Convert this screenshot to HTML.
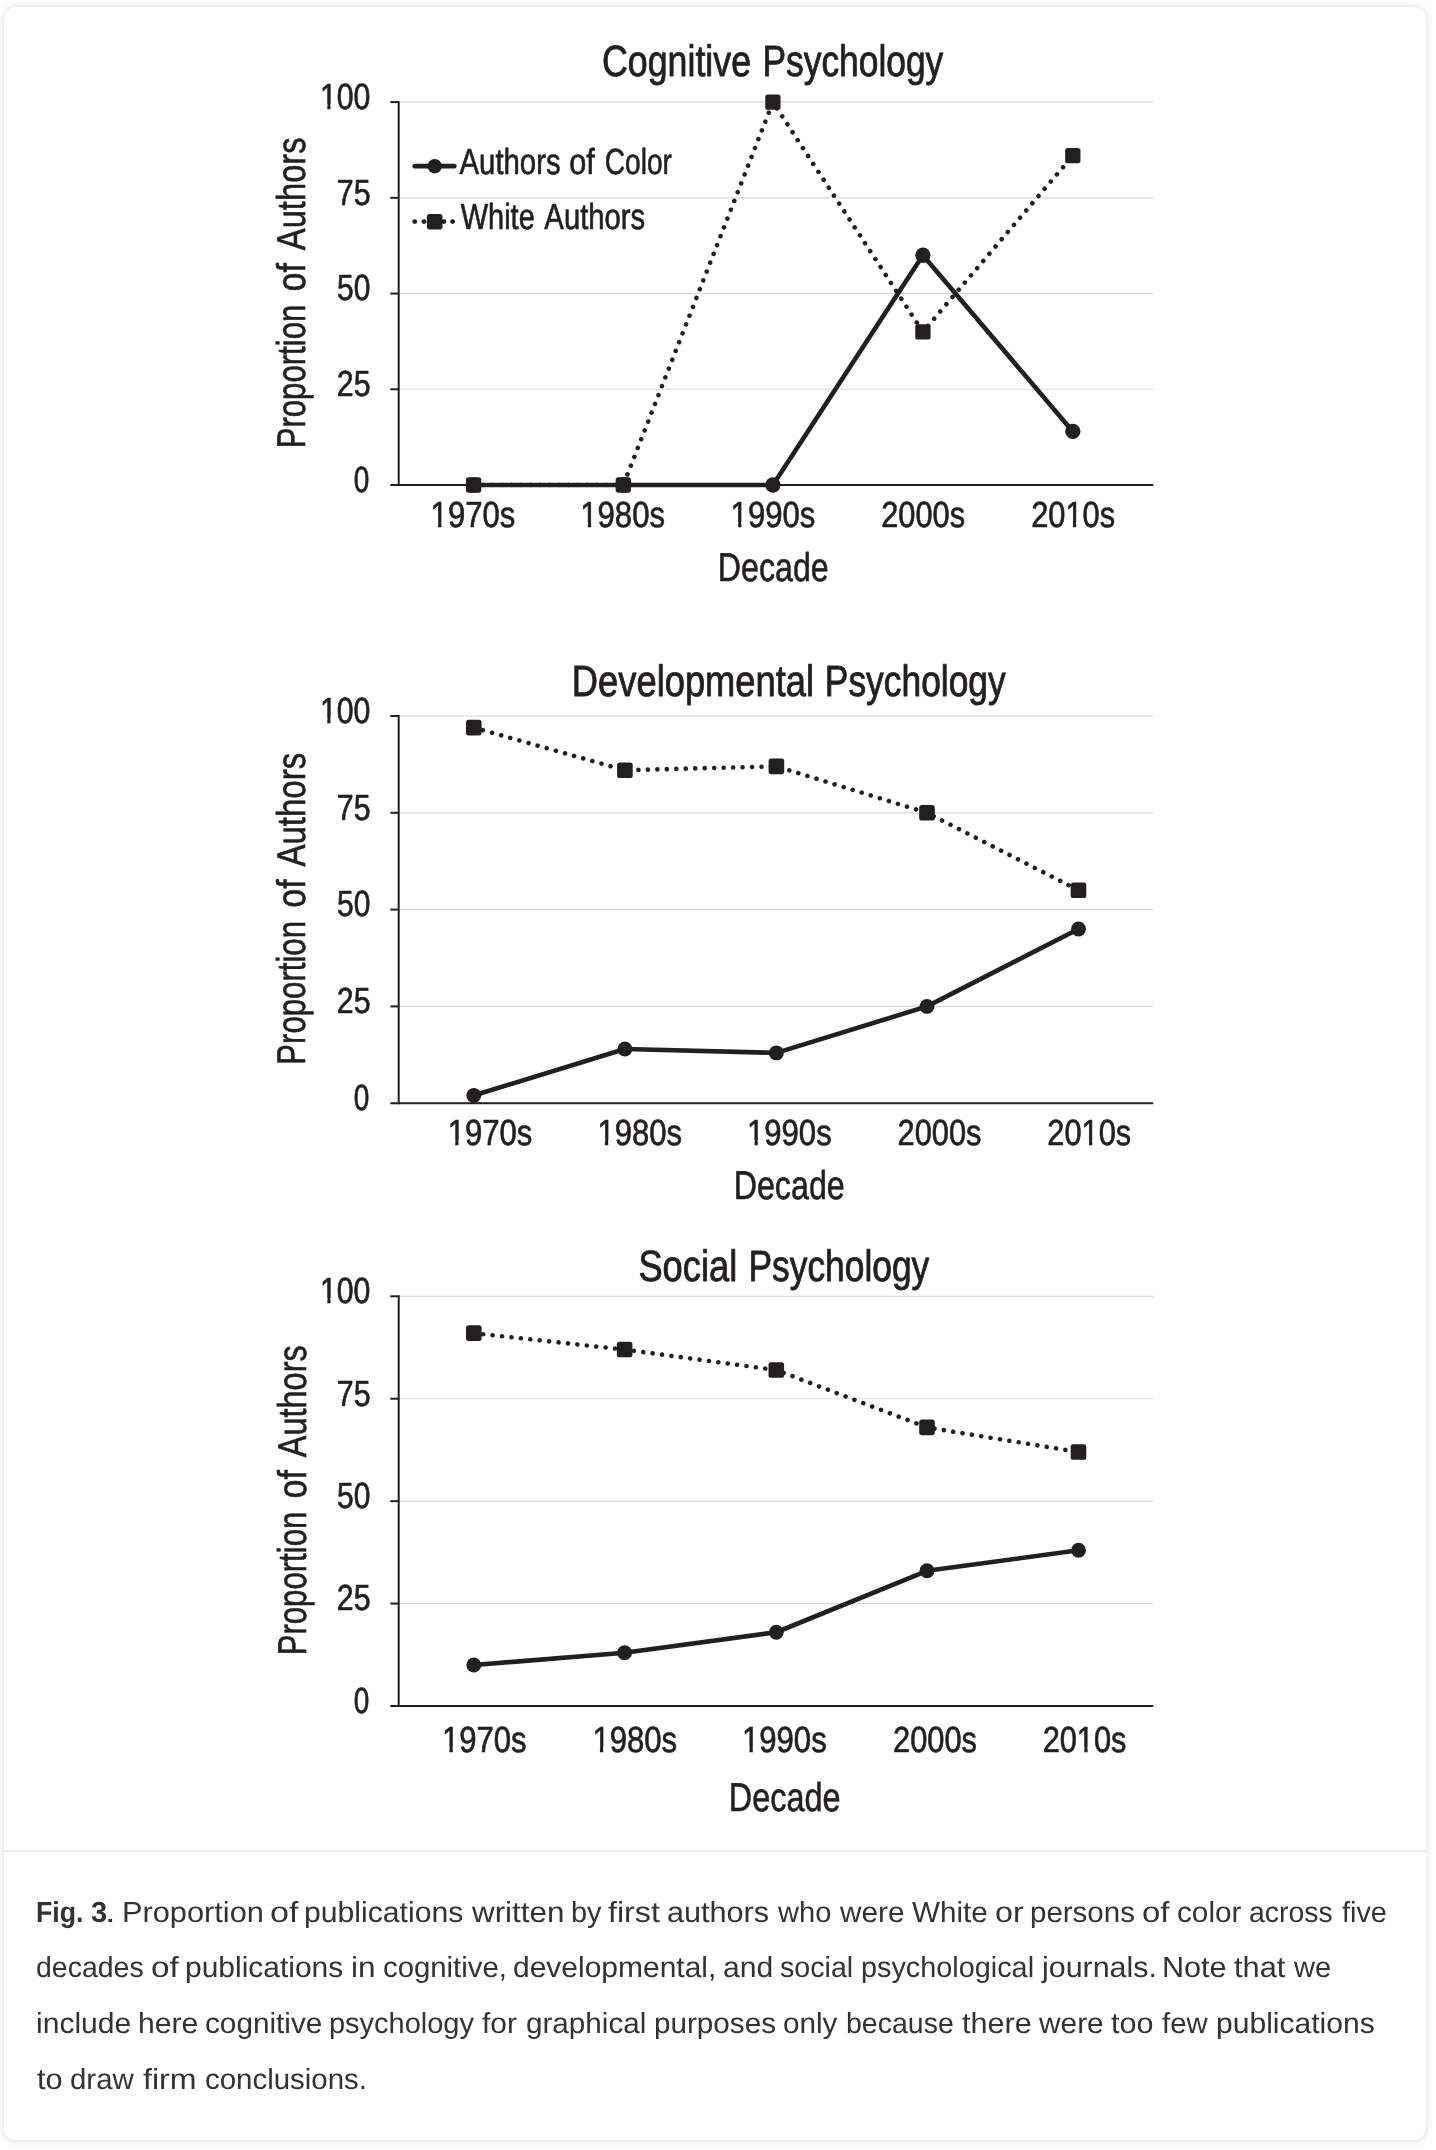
<!DOCTYPE html>
<html><head><meta charset="utf-8"><title>Fig. 3</title>
<style>
html,body{margin:0;padding:0;background:#fff;}
body{width:1436px;height:2150px;position:relative;overflow:hidden;font-family:"Liberation Sans",sans-serif;}
.card{position:absolute;left:4px;top:7px;width:1422px;height:2132.5px;background:#fff;border-radius:12px;box-shadow:0 0.5px 7px rgba(0,0,0,0.15);}
.divider{position:absolute;left:4px;top:1850px;width:1422px;height:2px;background:#ededed;}
svg{position:absolute;left:0;top:0;will-change:transform;}
svg text{font-family:"Liberation Sans",sans-serif;fill:#231f20;stroke:#231f20;stroke-linejoin:round;text-rendering:geometricPrecision;}
.cl{position:absolute;left:0;width:1436px;white-space:nowrap;font-size:29px;line-height:50px;height:50px;color:#333;will-change:transform;text-rendering:geometricPrecision;}
.cw{position:absolute;top:0;display:block;transform-origin:0 0;font-weight:normal;}
b.cw{font-weight:bold;}
</style></head><body>
<figure style="margin:0">
<div class="card"></div>
<div class="divider"></div>
<svg width="1436" height="1850" viewBox="0 0 1436 1850">
<line x1="398.7" y1="389.27" x2="1153.3" y2="389.27" stroke="#dadada" stroke-width="1.15"/>
<line x1="398.7" y1="293.55" x2="1153.3" y2="293.55" stroke="#dadada" stroke-width="1.15"/>
<line x1="398.7" y1="197.83" x2="1153.3" y2="197.83" stroke="#dadada" stroke-width="1.15"/>
<line x1="398.7" y1="102.10" x2="1153.3" y2="102.10" stroke="#dadada" stroke-width="1.15"/>
<line x1="398.7" y1="101.15" x2="398.7" y2="485.95" stroke="#231f20" stroke-width="2"/>
<line x1="390.3" y1="485.00" x2="1153.3" y2="485.00" stroke="#231f20" stroke-width="2"/>
<line x1="390.3" y1="389.27" x2="398.7" y2="389.27" stroke="#231f20" stroke-width="2"/>
<line x1="390.3" y1="293.55" x2="398.7" y2="293.55" stroke="#231f20" stroke-width="2"/>
<line x1="390.3" y1="197.83" x2="398.7" y2="197.83" stroke="#231f20" stroke-width="2"/>
<line x1="390.3" y1="102.10" x2="398.7" y2="102.10" stroke="#231f20" stroke-width="2"/>
<g transform="translate(319.97,108.90) scale(0.8331,1)"><text font-size="36.25" stroke-width="0.65">100</text><rect x="1.01" y="-5.15" width="7.76" height="6.88" fill="#fff"/><rect x="12.65" y="-5.15" width="7.47" height="6.88" fill="#fff"/></g>
<g transform="translate(336.75,204.63) scale(0.8372,1)"><text font-size="36.25" stroke-width="0.65">75</text></g>
<g transform="translate(337.07,300.35) scale(0.8253,1)"><text font-size="36.25" stroke-width="0.65">50</text></g>
<g transform="translate(336.75,396.07) scale(0.8372,1)"><text font-size="36.25" stroke-width="0.65">25</text></g>
<g transform="translate(353.83,491.80) scale(0.7701,1)"><text font-size="36.25" stroke-width="0.65">0</text></g>
<g transform="translate(602.06,75.90) scale(0.8158,1)"><text font-size="43.8" stroke-width="0.85">Cognitive</text></g>
<g transform="translate(762.41,75.90) scale(0.8077,1)"><text font-size="43.8" stroke-width="0.85">Psychology</text></g>
<g transform="translate(430.60,527.30) scale(0.8572,1)"><text font-size="36.25" stroke-width="0.65">1970s</text><rect x="1.01" y="-5.15" width="7.76" height="6.88" fill="#fff"/><rect x="12.65" y="-5.15" width="7.47" height="6.88" fill="#fff"/></g>
<g transform="translate(580.30,527.30) scale(0.8572,1)"><text font-size="36.25" stroke-width="0.65">1980s</text><rect x="1.01" y="-5.15" width="7.76" height="6.88" fill="#fff"/><rect x="12.65" y="-5.15" width="7.47" height="6.88" fill="#fff"/></g>
<g transform="translate(730.60,527.30) scale(0.8572,1)"><text font-size="36.25" stroke-width="0.65">1990s</text><rect x="1.01" y="-5.15" width="7.76" height="6.88" fill="#fff"/><rect x="12.65" y="-5.15" width="7.47" height="6.88" fill="#fff"/></g>
<g transform="translate(881.24,527.30) scale(0.8490,1)"><text font-size="36.25" stroke-width="0.65">2000s</text></g>
<g transform="translate(1031.24,527.30) scale(0.8490,1)"><text font-size="36.25" stroke-width="0.65">2010s</text><rect x="41.33" y="-5.15" width="7.76" height="6.88" fill="#fff"/><rect x="52.97" y="-5.15" width="7.47" height="6.88" fill="#fff"/></g>
<g transform="translate(717.87,581.40) scale(0.7996,1)"><text font-size="40.2" stroke-width="0.6">Decade</text></g>
<g transform="translate(305.40,446.10) rotate(-90) translate(-2.26,0) scale(0.7748,1)"><text font-size="40.2" stroke-width="0.6">Proportion</text></g>
<g transform="translate(305.40,446.10) rotate(-90) translate(154.70,0) scale(0.8446,1)"><text font-size="40.2" stroke-width="0.6">of</text></g>
<g transform="translate(305.40,446.10) rotate(-90) translate(195.94,0) scale(0.8142,1)"><text font-size="40.2" stroke-width="0.6">Authors</text></g>
<polyline points="473.60,485.00 623.30,485.00 772.90,102.10 922.90,331.84 1072.80,155.71" fill="none" stroke="#231f20" stroke-width="4.6" stroke-linecap="round" stroke-dasharray="0.01 9.462"/>
<polyline points="473.60,485.00 623.30,485.00 772.90,485.00 922.90,255.26 1072.80,431.39" fill="none" stroke="#231f20" stroke-width="4.6" stroke-linejoin="round" stroke-linecap="round"/>
<rect x="465.95" y="477.35" width="15.3" height="15.3" rx="2.6" fill="#231f20"/>
<rect x="615.65" y="477.35" width="15.3" height="15.3" rx="2.6" fill="#231f20"/>
<rect x="765.25" y="94.45" width="15.3" height="15.3" rx="2.6" fill="#231f20"/>
<rect x="915.25" y="324.19" width="15.3" height="15.3" rx="2.6" fill="#231f20"/>
<rect x="1065.15" y="148.06" width="15.3" height="15.3" rx="2.6" fill="#231f20"/>
<circle cx="473.60" cy="485.00" r="7.65" fill="#231f20"/>
<circle cx="623.30" cy="485.00" r="7.65" fill="#231f20"/>
<circle cx="772.90" cy="485.00" r="7.65" fill="#231f20"/>
<circle cx="922.90" cy="255.26" r="7.65" fill="#231f20"/>
<circle cx="1072.80" cy="431.39" r="7.65" fill="#231f20"/>
<line x1="414.8" y1="166.2" x2="454.2" y2="166.2" stroke="#231f20" stroke-width="4.8" stroke-linecap="round"/>
<circle cx="434.7" cy="166.2" r="7.2" fill="#231f20"/>
<g transform="translate(459.56,174.00) scale(0.8088,1)"><text font-size="36.25" stroke-width="0.65">Authors</text></g>
<g transform="translate(569.15,174.00) scale(0.8450,1)"><text font-size="36.25" stroke-width="0.65">of</text></g>
<g transform="translate(604.65,174.00) scale(0.7764,1)"><text font-size="36.25" stroke-width="0.65">Color</text></g>
<circle cx="414.7" cy="221.6" r="2.45" fill="#231f20"/>
<circle cx="424.0" cy="221.6" r="2.45" fill="#231f20"/>
<circle cx="443.9" cy="221.6" r="2.45" fill="#231f20"/>
<circle cx="452.6" cy="221.6" r="2.45" fill="#231f20"/>
<rect x="426.9" y="213.9" width="15.6" height="15.6" rx="2.7" fill="#231f20"/>
<g transform="translate(460.71,229.40) scale(0.7993,1)"><text font-size="36.25" stroke-width="0.65">White</text></g>
<g transform="translate(544.36,229.40) scale(0.8072,1)"><text font-size="36.25" stroke-width="0.65">Authors</text></g>
<line x1="398.7" y1="1006.40" x2="1153.3" y2="1006.40" stroke="#dadada" stroke-width="1.15"/>
<line x1="398.7" y1="909.60" x2="1153.3" y2="909.60" stroke="#dadada" stroke-width="1.15"/>
<line x1="398.7" y1="812.80" x2="1153.3" y2="812.80" stroke="#dadada" stroke-width="1.15"/>
<line x1="398.7" y1="716.00" x2="1153.3" y2="716.00" stroke="#dadada" stroke-width="1.15"/>
<line x1="398.7" y1="715.05" x2="398.7" y2="1104.15" stroke="#231f20" stroke-width="2"/>
<line x1="390.3" y1="1103.20" x2="1153.3" y2="1103.20" stroke="#231f20" stroke-width="2"/>
<line x1="390.3" y1="1006.40" x2="398.7" y2="1006.40" stroke="#231f20" stroke-width="2"/>
<line x1="390.3" y1="909.60" x2="398.7" y2="909.60" stroke="#231f20" stroke-width="2"/>
<line x1="390.3" y1="812.80" x2="398.7" y2="812.80" stroke="#231f20" stroke-width="2"/>
<line x1="390.3" y1="716.00" x2="398.7" y2="716.00" stroke="#231f20" stroke-width="2"/>
<g transform="translate(319.97,722.80) scale(0.8331,1)"><text font-size="36.25" stroke-width="0.65">100</text><rect x="1.01" y="-5.15" width="7.76" height="6.88" fill="#fff"/><rect x="12.65" y="-5.15" width="7.47" height="6.88" fill="#fff"/></g>
<g transform="translate(336.75,819.60) scale(0.8372,1)"><text font-size="36.25" stroke-width="0.65">75</text></g>
<g transform="translate(337.07,916.40) scale(0.8253,1)"><text font-size="36.25" stroke-width="0.65">50</text></g>
<g transform="translate(336.75,1013.20) scale(0.8372,1)"><text font-size="36.25" stroke-width="0.65">25</text></g>
<g transform="translate(353.83,1110.00) scale(0.7701,1)"><text font-size="36.25" stroke-width="0.65">0</text></g>
<g transform="translate(571.85,695.60) scale(0.8292,1)"><text font-size="43.8" stroke-width="0.85">Developmental</text></g>
<g transform="translate(824.81,695.60) scale(0.8077,1)"><text font-size="43.8" stroke-width="0.85">Psychology</text></g>
<g transform="translate(447.70,1145.00) scale(0.8572,1)"><text font-size="36.25" stroke-width="0.65">1970s</text><rect x="1.01" y="-5.15" width="7.76" height="6.88" fill="#fff"/><rect x="12.65" y="-5.15" width="7.47" height="6.88" fill="#fff"/></g>
<g transform="translate(597.40,1145.00) scale(0.8572,1)"><text font-size="36.25" stroke-width="0.65">1980s</text><rect x="1.01" y="-5.15" width="7.76" height="6.88" fill="#fff"/><rect x="12.65" y="-5.15" width="7.47" height="6.88" fill="#fff"/></g>
<g transform="translate(747.00,1145.00) scale(0.8572,1)"><text font-size="36.25" stroke-width="0.65">1990s</text><rect x="1.01" y="-5.15" width="7.76" height="6.88" fill="#fff"/><rect x="12.65" y="-5.15" width="7.47" height="6.88" fill="#fff"/></g>
<g transform="translate(897.54,1145.00) scale(0.8490,1)"><text font-size="36.25" stroke-width="0.65">2000s</text></g>
<g transform="translate(1047.34,1145.00) scale(0.8490,1)"><text font-size="36.25" stroke-width="0.65">2010s</text><rect x="41.33" y="-5.15" width="7.76" height="6.88" fill="#fff"/><rect x="52.97" y="-5.15" width="7.47" height="6.88" fill="#fff"/></g>
<g transform="translate(733.66,1198.80) scale(0.8019,1)"><text font-size="40.2" stroke-width="0.6">Decade</text></g>
<g transform="translate(305.30,1062.40) rotate(-90) translate(-2.26,0) scale(0.7748,1)"><text font-size="40.2" stroke-width="0.6">Proportion</text></g>
<g transform="translate(305.30,1062.40) rotate(-90) translate(154.70,0) scale(0.8446,1)"><text font-size="40.2" stroke-width="0.6">of</text></g>
<g transform="translate(305.30,1062.40) rotate(-90) translate(195.95,0) scale(0.8200,1)"><text font-size="40.2" stroke-width="0.6">Authors</text></g>
<polyline points="473.80,727.62 624.90,770.21 776.40,766.34 927.00,812.80 1078.50,890.24" fill="none" stroke="#231f20" stroke-width="4.6" stroke-linecap="round" stroke-dasharray="0.01 9.462"/>
<polyline points="473.80,1095.46 624.90,1048.99 776.40,1052.86 927.00,1006.40 1078.50,928.96" fill="none" stroke="#231f20" stroke-width="4.6" stroke-linejoin="round" stroke-linecap="round"/>
<rect x="466.00" y="719.82" width="15.6" height="15.6" rx="2.6" fill="#231f20"/>
<rect x="617.10" y="762.41" width="15.6" height="15.6" rx="2.6" fill="#231f20"/>
<rect x="768.60" y="758.54" width="15.6" height="15.6" rx="2.6" fill="#231f20"/>
<rect x="919.20" y="805.00" width="15.6" height="15.6" rx="2.6" fill="#231f20"/>
<rect x="1070.70" y="882.44" width="15.6" height="15.6" rx="2.6" fill="#231f20"/>
<circle cx="473.80" cy="1095.46" r="7.45" fill="#231f20"/>
<circle cx="624.90" cy="1048.99" r="7.45" fill="#231f20"/>
<circle cx="776.40" cy="1052.86" r="7.45" fill="#231f20"/>
<circle cx="927.00" cy="1006.40" r="7.45" fill="#231f20"/>
<circle cx="1078.50" cy="928.96" r="7.45" fill="#231f20"/>
<line x1="398.7" y1="1603.58" x2="1153.3" y2="1603.58" stroke="#dadada" stroke-width="1.15"/>
<line x1="398.7" y1="1501.15" x2="1153.3" y2="1501.15" stroke="#dadada" stroke-width="1.15"/>
<line x1="398.7" y1="1398.72" x2="1153.3" y2="1398.72" stroke="#dadada" stroke-width="1.15"/>
<line x1="398.7" y1="1296.30" x2="1153.3" y2="1296.30" stroke="#dadada" stroke-width="1.15"/>
<line x1="398.7" y1="1295.35" x2="398.7" y2="1706.95" stroke="#231f20" stroke-width="2"/>
<line x1="390.3" y1="1706.00" x2="1153.3" y2="1706.00" stroke="#231f20" stroke-width="2"/>
<line x1="390.3" y1="1603.58" x2="398.7" y2="1603.58" stroke="#231f20" stroke-width="2"/>
<line x1="390.3" y1="1501.15" x2="398.7" y2="1501.15" stroke="#231f20" stroke-width="2"/>
<line x1="390.3" y1="1398.72" x2="398.7" y2="1398.72" stroke="#231f20" stroke-width="2"/>
<line x1="390.3" y1="1296.30" x2="398.7" y2="1296.30" stroke="#231f20" stroke-width="2"/>
<g transform="translate(319.97,1303.10) scale(0.8331,1)"><text font-size="36.25" stroke-width="0.65">100</text><rect x="1.01" y="-5.15" width="7.76" height="6.88" fill="#fff"/><rect x="12.65" y="-5.15" width="7.47" height="6.88" fill="#fff"/></g>
<g transform="translate(336.75,1405.52) scale(0.8372,1)"><text font-size="36.25" stroke-width="0.65">75</text></g>
<g transform="translate(337.07,1507.95) scale(0.8253,1)"><text font-size="36.25" stroke-width="0.65">50</text></g>
<g transform="translate(336.75,1610.38) scale(0.8372,1)"><text font-size="36.25" stroke-width="0.65">25</text></g>
<g transform="translate(353.83,1712.80) scale(0.7701,1)"><text font-size="36.25" stroke-width="0.65">0</text></g>
<g transform="translate(638.42,1281.10) scale(0.8284,1)"><text font-size="43.8" stroke-width="0.85">Social</text></g>
<g transform="translate(748.41,1281.10) scale(0.8077,1)"><text font-size="43.8" stroke-width="0.85">Psychology</text></g>
<g transform="translate(441.90,1752.30) scale(0.8572,1)"><text font-size="36.25" stroke-width="0.65">1970s</text><rect x="1.01" y="-5.15" width="7.76" height="6.88" fill="#fff"/><rect x="12.65" y="-5.15" width="7.47" height="6.88" fill="#fff"/></g>
<g transform="translate(592.40,1752.30) scale(0.8572,1)"><text font-size="36.25" stroke-width="0.65">1980s</text><rect x="1.01" y="-5.15" width="7.76" height="6.88" fill="#fff"/><rect x="12.65" y="-5.15" width="7.47" height="6.88" fill="#fff"/></g>
<g transform="translate(742.00,1752.30) scale(0.8572,1)"><text font-size="36.25" stroke-width="0.65">1990s</text><rect x="1.01" y="-5.15" width="7.76" height="6.88" fill="#fff"/><rect x="12.65" y="-5.15" width="7.47" height="6.88" fill="#fff"/></g>
<g transform="translate(893.04,1752.30) scale(0.8490,1)"><text font-size="36.25" stroke-width="0.65">2000s</text></g>
<g transform="translate(1042.64,1752.30) scale(0.8490,1)"><text font-size="36.25" stroke-width="0.65">2010s</text><rect x="41.33" y="-5.15" width="7.76" height="6.88" fill="#fff"/><rect x="52.97" y="-5.15" width="7.47" height="6.88" fill="#fff"/></g>
<g transform="translate(728.85,1810.80) scale(0.8063,1)"><text font-size="40.2" stroke-width="0.6">Decade</text></g>
<g transform="translate(305.60,1653.10) rotate(-90) translate(-2.26,0) scale(0.7748,1)"><text font-size="40.2" stroke-width="0.6">Proportion</text></g>
<g transform="translate(305.60,1653.10) rotate(-90) translate(154.70,0) scale(0.8446,1)"><text font-size="40.2" stroke-width="0.6">of</text></g>
<g transform="translate(305.60,1653.10) rotate(-90) translate(195.94,0) scale(0.8077,1)"><text font-size="40.2" stroke-width="0.6">Authors</text></g>
<polyline points="473.80,1333.17 624.60,1349.56 776.30,1370.05 927.00,1427.40 1078.50,1451.99" fill="none" stroke="#231f20" stroke-width="4.6" stroke-linecap="round" stroke-dasharray="0.01 9.462"/>
<polyline points="473.80,1665.03 624.60,1652.74 776.30,1632.25 927.00,1570.80 1078.50,1550.31" fill="none" stroke="#231f20" stroke-width="4.6" stroke-linejoin="round" stroke-linecap="round"/>
<rect x="466.00" y="1325.37" width="15.6" height="15.6" rx="2.6" fill="#231f20"/>
<rect x="616.80" y="1341.76" width="15.6" height="15.6" rx="2.6" fill="#231f20"/>
<rect x="768.50" y="1362.25" width="15.6" height="15.6" rx="2.6" fill="#231f20"/>
<rect x="919.20" y="1419.60" width="15.6" height="15.6" rx="2.6" fill="#231f20"/>
<rect x="1070.70" y="1444.19" width="15.6" height="15.6" rx="2.6" fill="#231f20"/>
<circle cx="473.80" cy="1665.03" r="7.45" fill="#231f20"/>
<circle cx="624.60" cy="1652.74" r="7.45" fill="#231f20"/>
<circle cx="776.30" cy="1632.25" r="7.45" fill="#231f20"/>
<circle cx="927.00" cy="1570.80" r="7.45" fill="#231f20"/>
<circle cx="1078.50" cy="1550.31" r="7.45" fill="#231f20"/>
</svg>
<figcaption>
<div class="cl" style="top:1887.7px"><b class="cw" style="left:36.2px;transform:scaleX(0.9202)">Fig.</b> <b class="cw" style="left:90.5px;transform:scaleX(1.0031)">3</b> <span class="cw" style="left:104.9px;transform:scaleX(1.3067)">.</span> <span class="cw" style="left:121.5px;transform:scaleX(1.0607)">Proportion</span> <span class="cw" style="left:269.9px;transform:scaleX(1.1755)">of</span> <span class="cw" style="left:304.2px;transform:scaleX(1.0405)">publications</span> <span class="cw" style="left:471.5px;transform:scaleX(1.0824)">written</span> <span class="cw" style="left:570.5px;transform:scaleX(0.9962)">by</span> <span class="cw" style="left:608.4px;transform:scaleX(1.1104)">first</span> <span class="cw" style="left:667.3px;transform:scaleX(1.0556)">authors</span> <span class="cw" style="left:778.2px;transform:scaleX(1.0028)">who</span> <span class="cw" style="left:840.4px;transform:scaleX(1.0264)">were</span> <span class="cw" style="left:911.8px;transform:scaleX(1.0214)">White</span> <span class="cw" style="left:994.6px;transform:scaleX(1.1093)">or</span> <span class="cw" style="left:1030.1px;transform:scaleX(1.0165)">persons</span> <span class="cw" style="left:1142.4px;transform:scaleX(1.1364)">of</span> <span class="cw" style="left:1176.6px;transform:scaleX(1.0247)">color</span> <span class="cw" style="left:1249.0px;transform:scaleX(0.9792)">across</span> <span class="cw" style="left:1342.0px;transform:scaleX(0.9941)">five</span></div>
<div class="cl" style="top:1943.3px"><span class="cw" style="left:36.2px;transform:scaleX(0.9819)">decades</span> <span class="cw" style="left:150.9px;transform:scaleX(1.1494)">of</span> <span class="cw" style="left:184.8px;transform:scaleX(1.0332)">publications</span> <span class="cw" style="left:351.0px;transform:scaleX(1.0853)">in</span> <span class="cw" style="left:382.5px;transform:scaleX(1.0113)">cognitive,</span> <span class="cw" style="left:513.1px;transform:scaleX(1.0337)">developmental,</span> <span class="cw" style="left:722.7px;transform:scaleX(1.0389)">and</span> <span class="cw" style="left:780.0px;transform:scaleX(0.9868)">social</span> <span class="cw" style="left:860.9px;transform:scaleX(0.9939)">psychological</span> <span class="cw" style="left:1041.6px;transform:scaleX(1.0484)">journals.</span> <span class="cw" style="left:1162.0px;transform:scaleX(1.0545)">Note</span> <span class="cw" style="left:1233.7px;transform:scaleX(1.0607)">that</span> <span class="cw" style="left:1293.9px;transform:scaleX(1.0008)">we</span></div>
<div class="cl" style="top:1999.0px"><span class="cw" style="left:35.9px;transform:scaleX(1.0367)">include</span> <span class="cw" style="left:137.6px;transform:scaleX(1.0391)">here</span> <span class="cw" style="left:204.9px;transform:scaleX(1.0255)">cognitive</span> <span class="cw" style="left:328.5px;transform:scaleX(0.9989)">psychology</span> <span class="cw" style="left:482.1px;transform:scaleX(1.0299)">for</span> <span class="cw" style="left:526.2px;transform:scaleX(1.0223)">graphical</span> <span class="cw" style="left:653.6px;transform:scaleX(1.0229)">purposes</span> <span class="cw" style="left:783.2px;transform:scaleX(1.0239)">only</span> <span class="cw" style="left:845.8px;transform:scaleX(0.9828)">because</span> <span class="cw" style="left:961.6px;transform:scaleX(1.0547)">there</span> <span class="cw" style="left:1038.7px;transform:scaleX(1.0296)">were</span> <span class="cw" style="left:1110.9px;transform:scaleX(1.0539)">too</span> <span class="cw" style="left:1161.7px;transform:scaleX(1.0110)">few</span> <span class="cw" style="left:1215.5px;transform:scaleX(1.0365)">publications</span></div>
<div class="cl" style="top:2054.7px"><span class="cw" style="left:36.8px;transform:scaleX(1.0610)">to</span> <span class="cw" style="left:70.0px;transform:scaleX(1.0134)">draw</span> <span class="cw" style="left:143.4px;transform:scaleX(1.1082)">firm</span> <span class="cw" style="left:204.7px;transform:scaleX(1.0152)">conclusions.</span></div>
</figcaption>
</figure>
</body></html>
